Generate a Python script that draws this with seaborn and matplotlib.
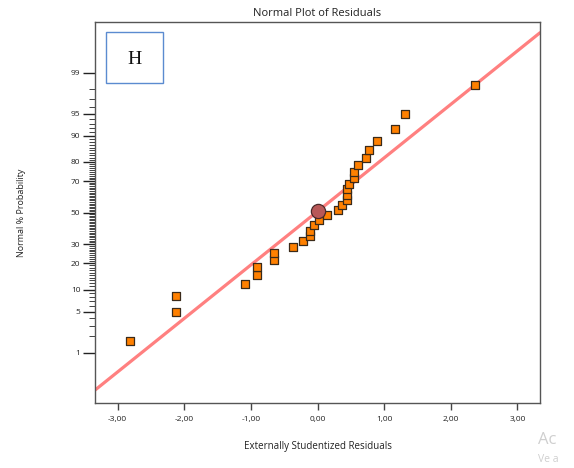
import numpy as np
import matplotlib
matplotlib.use("Agg")
import matplotlib.pyplot as plt
from matplotlib.patches import Rectangle
from matplotlib.ticker import FixedLocator, FixedFormatter, NullFormatter
from statistics import NormalDist
import seaborn as sns

# Externally studentized residuals, sorted, with their normal % probability
residuals = [-2.82, -2.12, -2.12, -1.09, -0.91, -0.91, -0.65, -0.65, -0.37, -0.22,
             -0.12, -0.12, -0.06, 0.03, 0.14, 0.31, 0.37, 0.45, 0.45, 0.45,
             0.48, 0.55, 0.55, 0.61, 0.73, 0.78, 0.90, 1.17, 1.32, 2.37]
normal_pct = [1.67, 5.00, 8.33, 11.67, 15.00, 18.33, 21.67, 25.00, 28.33, 31.67,
              35.00, 38.33, 41.67, 45.00, 48.33, 51.67, 55.00, 58.33, 61.67, 65.00,
              68.33, 71.67, 75.00, 78.33, 81.67, 85.00, 88.33, 91.67, 95.00, 98.33]

# highlighted centre point
center_x = [0.0]
center_pct = [51.0]

# reference line (endpoints at the plot edges)
fit_x = [-3.34, 3.34]
fit_pct = [0.16, 99.86]

x_ticks = [-3, -2, -1, 0, 1, 2, 3]
x_tick_labels = ["-3,00", "-2,00", "-1,00", "0,00", "1,00", "2,00", "3,00"]
y_major = [1, 5, 10, 20, 30, 50, 70, 80, 90, 95, 99]
y_major_labels = ["1", "5", "10", "20", "30", "50", "70", "80", "90", "95", "99"]
y_minor = [p for p in range(2, 99) if p not in y_major]

sns.set_style("ticks")
plt.rcParams["font.family"] = ["Open Sans", "DejaVu Sans"]

_nd = NormalDist()


def pct_to_z(p):
    p = np.asarray(p, dtype=float)
    flat = p.ravel()
    out = np.full(flat.shape, np.nan)
    for i, v in enumerate(flat):
        if np.isfinite(v):
            q = min(max(v / 100.0, 1e-12), 1 - 1e-12)
            out[i] = _nd.inv_cdf(q)
    return out.reshape(p.shape)


def z_to_pct(z):
    z = np.asarray(z, dtype=float)
    flat = z.ravel()
    out = np.full(flat.shape, np.nan)
    for i, v in enumerate(flat):
        if np.isfinite(v):
            out[i] = _nd.cdf(v) * 100.0
    return out.reshape(z.shape)


fig = plt.figure(figsize=(5.74, 4.68), dpi=100)
ax = fig.add_axes([95 / 574, 1 - 403.3 / 468, 445 / 574, 381.3 / 468])
ax.set_yscale("function", functions=(pct_to_z, z_to_pct))

sns.lineplot(x=fit_x, y=fit_pct, ax=ax, color="#ff8080", linewidth=2.3,
             sort=False, estimator=None, zorder=2)
sns.scatterplot(x=residuals, y=normal_pct, ax=ax, marker="s", s=32,
                color="#ff8000", edgecolor="#3a2a1a", linewidth=0.9, zorder=3)
sns.scatterplot(x=center_x, y=center_pct, ax=ax, marker="o", s=105,
                color="#b85858", edgecolor="#4a2a2a", linewidth=0.9, zorder=4)

ax.set_xlim(-3.34, 3.34)
ax.set_ylim(0.077, 99.923)

ax.xaxis.set_major_locator(FixedLocator(x_ticks))
ax.xaxis.set_major_formatter(FixedFormatter(x_tick_labels))
ax.yaxis.set_major_locator(FixedLocator(y_major))
ax.yaxis.set_major_formatter(FixedFormatter(y_major_labels))
ax.yaxis.set_minor_locator(FixedLocator(y_minor))
ax.yaxis.set_minor_formatter(NullFormatter())
ax.xaxis.set_minor_locator(FixedLocator([]))

ax.tick_params(axis="x", which="major", length=5, width=1.0, color="#444",
               labelsize=6, pad=4, labelcolor="#222")
ax.tick_params(axis="y", which="major", length=8.5, width=1.0, color="#222",
               labelsize=6, pad=2, labelcolor="#222")
ax.tick_params(axis="y", which="minor", length=4, width=0.6, color="#222")

for side in ["left", "bottom", "top", "right"]:
    ax.spines[side].set_visible(True)
    ax.spines[side].set_color("#555555")
    ax.spines[side].set_linewidth(1.0)

ax.set_title("Normal Plot of Residuals", fontsize=8, pad=4, color="#222")
ax.set_xlabel("Externally Studentized Residuals", fontsize=7, color="#222")
ax.set_ylabel("Normal % Probability", fontsize=6.5, color="#222")
ax.xaxis.set_label_coords(0.5, -0.098)
ax.yaxis.set_label_coords(-0.155, 0.5)

# panel letter in a framed box
fig.add_artist(Rectangle((106 / 574, 1 - 83 / 468), 56.7 / 574, 50.7 / 468,
                         transform=fig.transFigure, fill=True, facecolor="white",
                         edgecolor="#5b8bd0", linewidth=1.0, zorder=5))
fig.text(134.5 / 574, 1 - 60 / 468, "H", fontsize=14, family="Liberation Serif",
         ha="center", va="center", color="#111", zorder=6)

# faint overlay text in the lower right corner
fig.text(538 / 574, 1 - 440 / 468, "Ac", fontsize=12,
         color="#cfcfcf", va="center", ha="left")
fig.text(538 / 574, 1 - 460 / 468, "Ve a",
         fontsize=7.5, color="#cfcfcf", va="center", ha="left")

fig.savefig("out.png", dpi=100)
